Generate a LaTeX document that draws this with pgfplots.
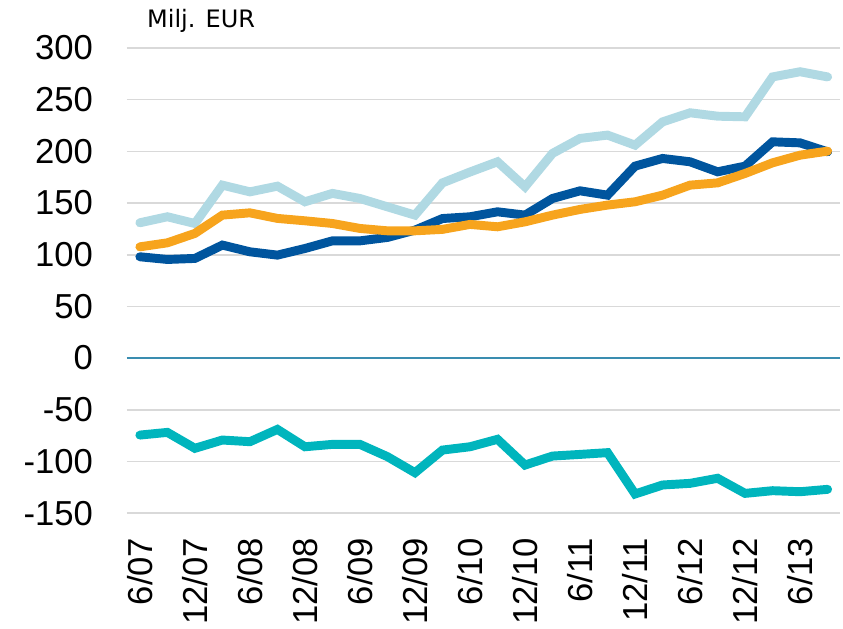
\documentclass[border=0pt]{standalone}
\usepackage{pgfplots}
\pgfplotsset{compat=1.18}
\usepackage{fontspec}
\setmainfont{Liberation Sans}
\newfontfamily\labelfont{DejaVu Sans}
\definecolor{lblue}{HTML}{B0D9E3}
\definecolor{dblue}{HTML}{00559E}
\definecolor{orng}{HTML}{F7A41D}
\definecolor{teal2}{HTML}{00B5BD}
\definecolor{zeroc}{HTML}{3A8DB0}
\definecolor{gridc}{HTML}{D9D9D9}
\begin{document}
\begin{tikzpicture}
\begin{axis}[
  scale only axis,
  width=535pt, height=349pt,
  xmin=-0.47, xmax=25.45,
  ymin=-150, ymax=300,
  axis line style={draw=none},
  ytick={-150,-100,...,300},
  xtick={0,2,...,24},
  xticklabels={6/07,12/07,6/08,12/08,6/09,12/09,6/10,12/10,6/11,12/11,6/12,12/12,6/13},
  major tick length=0pt,
  ymajorgrids, grid style={gridc, line width=1.2pt},
  tick label style={font=\fontsize{26}{28}\selectfont},
  /pgf/number format/assume math mode=true,
  yticklabel style={anchor=east, xshift=-22pt},
  xticklabel style={rotate=90, anchor=east, xshift=-15pt},
  every axis plot/.append style={line width=6.7pt, line cap=round, no markers},
  clip=false,
]
\addplot[zeroc, line width=1pt, line cap=butt] coordinates {(-0.47,0) (25.45,0)};
\addplot[lblue] coordinates {
(0,130.9) (1,136.7) (2,130.2) (3,167.3) (4,160.8) (5,166.3) (6,151.2) (7,159.3) (8,154.4) (9,146.3)
(10,138.3) (11,169.5) (12,180) (13,189.9) (14,165.7) (15,198) (16,212.5) (17,215.7) (18,206) (19,228.5)
(20,237.3) (21,234) (22,233.4) (23,272) (24,277) (25,272)};
\addplot[dblue] coordinates {
(0,98) (1,95.4) (2,96.4) (3,109.3) (4,102.8) (5,99.6) (6,106) (7,113.4) (8,113.4) (9,116.7)
(10,123.8) (11,135) (12,136.7) (13,141.5) (14,138.3) (15,154.4) (16,161.8) (17,157.6) (18,185.7) (19,193.1)
(20,189.9) (21,180.2) (22,185.7) (23,209.2) (24,208.2) (25,199.5)};
\addplot[orng] coordinates {
(0,107.6) (1,111.5) (2,120.6) (3,138.3) (4,140.5) (5,135.1) (6,132.8) (7,130.2) (8,125.4) (9,123.1)
(10,123.1) (11,124.5) (12,129.3) (13,127) (14,131.8) (15,138.3) (16,143.8) (17,148) (18,151.2) (19,157.6)
(20,167.3) (21,169.5) (22,178.6) (23,188.9) (24,196.3) (25,200.2)};
\addplot[teal2] coordinates {
(0,-74.5) (1,-71.9) (2,-87.3) (3,-79.3) (4,-80.9) (5,-69) (6,-85.8) (7,-83.5) (8,-83.5) (9,-95.4)
(10,-110.9) (11,-89) (12,-85.8) (13,-78.6) (14,-103.5) (15,-94.8) (16,-93.2) (17,-91.5) (18,-131.5) (19,-122.8)
(20,-121.2) (21,-116.3) (22,-130.9) (23,-128.3) (24,-129.3) (25,-127)};
\node[anchor=base west, inner sep=0pt, yshift=15pt, font=\labelfont\fontsize{18}{20}\selectfont] at (rel axis cs:0.028,1) {Milj. EUR};
\end{axis}
\pgfresetboundingbox
\path[use as bounding box] ([xshift=-95.25pt,yshift=-86.5pt]current axis.south west) rectangle ([xshift=2.25pt,yshift=36pt]current axis.north east);
\end{tikzpicture}
\end{document}
